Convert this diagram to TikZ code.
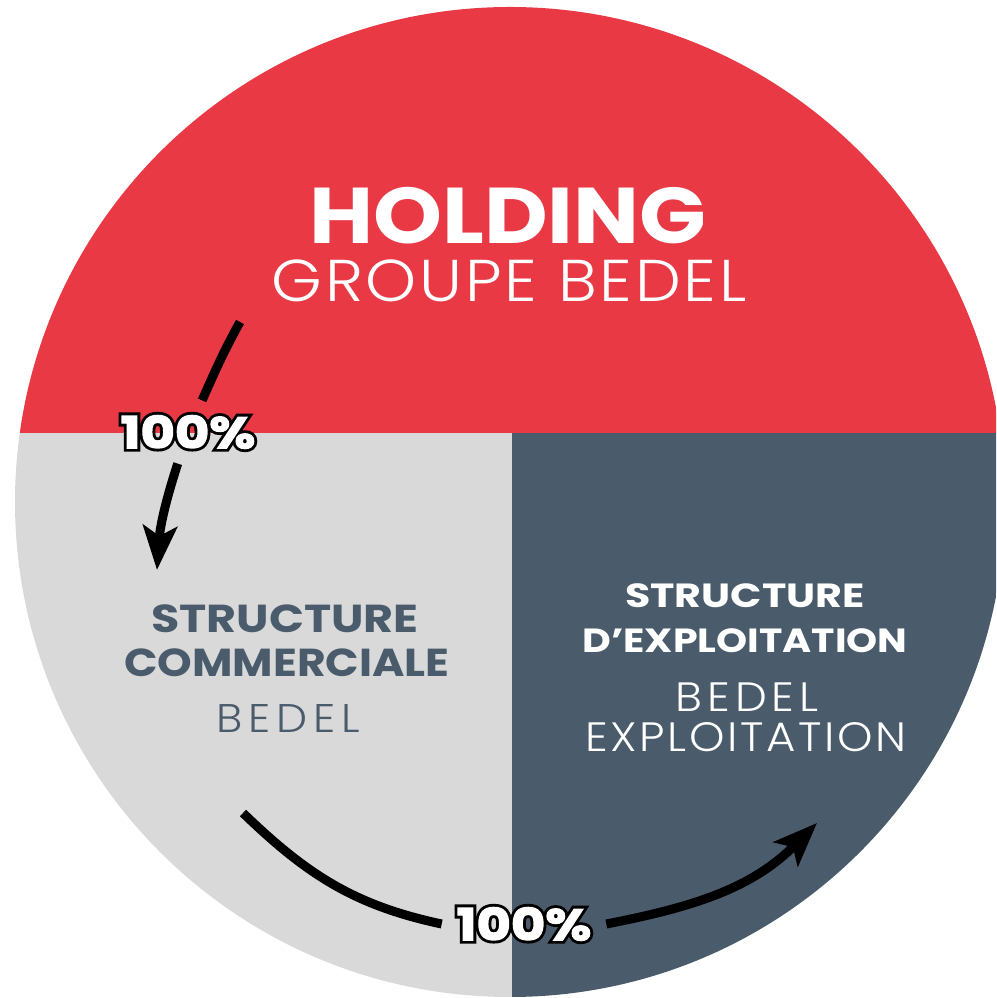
\documentclass[tikz,border=0pt]{standalone}
\usepackage{fontspec}
\setmainfont{Poppins}
\newfontfamily\lightfont{Poppins Light}
\usetikzlibrary{arrows.meta}
\definecolor{bedelRed}{RGB}{232,57,69}
\definecolor{bedelGray}{RGB}{217,217,217}
\definecolor{bedelSlate}{RGB}{74,91,108}
% white text with a black rim
\newcommand\rimtext[1]{%
  \leavevmode
  \rlap{\addfontfeature{FakeBold=16}\textcolor{black}{#1}}%
  {\addfontfeature{FakeBold=3}\textcolor{white}{#1}}}

\begin{document}
\begin{tikzpicture}[x=1pt, y=1pt,
    title/.style={anchor=base, inner sep=0pt, text=white},
    pct/.style={inner sep=5pt, outer sep=10pt, font=\bfseries\fontsize{44}{44}\selectfont\addfontfeature{FakeStretch=1.2}},
    link/.style={line width=9pt},
    tip/.style={-{Stealth[length=44pt,width=34pt,inset=10pt]}}]
    \useasboundingbox (0,0) rectangle (996,998);
    \clip (0,0) rectangle (996,998);
    % the three parts of the disc
    \begin{scope}
        \clip (510,496) circle[radius=495];
        \fill[bedelRed] (0,565) rectangle (1010,1000);
        \fill[bedelGray] (0,-10) rectangle (512,565);
        \fill[bedelSlate] (512,-10) rectangle (1010,565);
    \end{scope}
    \node[title, font=\bfseries\fontsize{79}{79}\selectfont\addfontfeature{FakeStretch=1.11}] (hold) at (508,754) {HOLDING};
    \node[title, font=\lightfont\fontsize{59}{59}\selectfont\addfontfeature{FakeStretch=1.1,LetterSpace=4.7}] (grp) at (509,696) {GROUPE BEDEL};
    \node[title, text=bedelSlate, font=\bfseries\fontsize{39}{39}\selectfont\addfontfeature{FakeStretch=1.18}] (commA) at (285,365) {STRUCTURE};
    \node[title, text=bedelSlate, font=\bfseries\fontsize{39}{39}\selectfont\addfontfeature{FakeStretch=1.13}] (commB) at (287,321) {COMMERCIALE};
    \node[title, text=bedelSlate, font=\lightfont\fontsize{40}{40}\selectfont\addfontfeature{FakeStretch=1.1,LetterSpace=14.5}] (commC) at (288,265) {BEDEL};
    \node[title, font=\bfseries\fontsize{33.5}{33.5}\selectfont\addfontfeature{FakeStretch=1.23}] (explA) at (745,390) {STRUCTURE};
    \node[title, font=\bfseries\fontsize{33.5}{33.5}\selectfont\addfontfeature{FakeStretch=1.18}] (explB) at (745,345) {D’EXPLOITATION};
    \node[title, font=\lightfont\fontsize{41}{41}\selectfont\addfontfeature{FakeStretch=1.1,LetterSpace=12.2}] (explC) at (747,286) {BEDEL};
    \node[title, font=\lightfont\fontsize{41}{41}\selectfont\addfontfeature{FakeStretch=1.1,LetterSpace=6.5}] (explD) at (746,246) {EXPLOITATION};
    % holding -> commerciale
    \coordinate (hstart) at (240,676);
    \coordinate (ctip) at (157,428);
    \node[pct] (pctL) at (188,566) {\rimtext{100\%}};
    \draw[link] (hstart) to[out=241,in=66] (pctL);
    \draw[link, tip] (pctL) to[out=252,in=86] (ctip);
    % commerciale -> exploitation
    \coordinate (cstart) at (243,185);
    \coordinate (etip) at (817,175);
    \node[pct] (pctB) at (524,74) {\rimtext{100\%}};
    \draw[link] (cstart) to[out=-44,in=168] (pctB.west);
    \draw[link, tip] (pctB.east) to[out=11,in=225] (etip);
\end{tikzpicture}
\end{document}
